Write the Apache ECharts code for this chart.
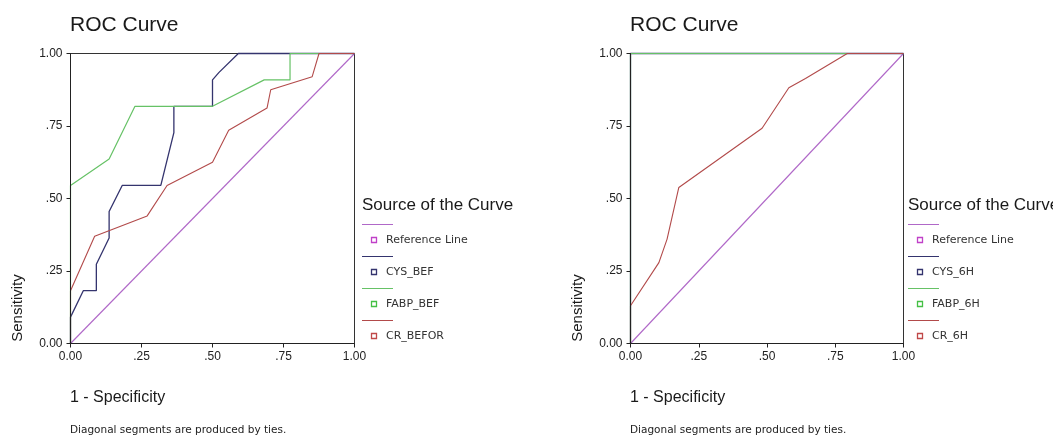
<!DOCTYPE html>
<html>
<head>
<meta charset="utf-8">
<script src="https://cdn.jsdelivr.net/npm/echarts@6/dist/echarts.min.js"></script>
<style>
html,body{margin:0;padding:0;background:#fff;}
#chart{width:1053px;height:436px;}
</style>
</head>
<body>
<div id="chart"></div>
<script>
// ---- data ----
const tickLabels = ['0.00', '.25', '.50', '.75', '1.00'];

const refLine = [[0, 0], [1, 1]];

// Left panel (before)
const cysBef = [[0,0],[0,0.091],[0.045,0.182],[0.091,0.182],[0.091,0.273],[0.136,0.364],[0.136,0.455],[0.182,0.545],[0.318,0.545],[0.364,0.727],[0.364,0.818],[0.5,0.818],[0.5,0.909],[0.523,0.935],[0.591,1],[1,1]];
const fabpBef = [[0,0],[0,0.545],[0.136,0.636],[0.227,0.818],[0.5,0.818],[0.682,0.909],[0.773,0.909],[0.773,1],[1,1]];
const crBefor = [[0,0],[0,0.182],[0.085,0.37],[0.27,0.44],[0.34,0.545],[0.5,0.625],[0.557,0.735],[0.692,0.812],[0.705,0.875],[0.851,0.92],[0.875,1],[1,1]];

// Right panel (6H)
const cys6h = [[0,0],[0,1],[1,1]];
const fabp6h = [[0,0],[0,1],[1,1]];
const cr6h = [[0,0],[0,0.13],[0.104,0.279],[0.134,0.36],[0.177,0.538],[0.482,0.742],[0.58,0.882],[0.641,0.914],[0.794,1],[1,1]];

const legendLeft = ['Reference Line', 'CYS_BEF', 'FABP_BEF', 'CR_BEFOR'];
const legendRight = ['Reference Line', 'CYS_6H', 'FABP_6H', 'CR_6H'];

// ---- styles ----
const lineColors = ['#b068c8', '#34346e', '#66c266', '#b24a4a'];
const markColors = ['#c040c8', '#34346e', '#44c044', '#c04848'];
const lineWidths = [1.1, 1.3, 1.2, 1.1];

const panels = [
  { left: 70.5, top: 53.5, width: 284, height: 290, series: [refLine, cysBef, fabpBef, crBefor], names: legendLeft, legX: 362 },
  { left: 630.5, top: 53.5, width: 273, height: 290, series: [refLine, cys6h, fabp6h, cr6h], names: legendRight, legX: 908 }
];

const axisFont = { fontFamily: 'Liberation Sans, Arial, sans-serif', fontSize: 12, color: '#222' };

function fmt(v) { return tickLabels[Math.round(v / 0.25)]; }

const grids = [], xAxes = [], yAxes = [], series = [], graphics = [];

panels.forEach((p, gi) => {
  grids.push({ left: p.left, top: p.top, width: p.width, height: p.height, show: true, z: 0,
    borderColor: '#333', borderWidth: 1, backgroundColor: 'transparent' });
  xAxes.push({ type: 'value', gridIndex: gi, min: 0, max: 1, interval: 0.25, z: 20,
    axisLine: { show: true, lineStyle: { color: '#222', width: 1 } },
    axisTick: { show: true, length: 4, lineStyle: { color: '#222' } },
    axisLabel: Object.assign({ formatter: fmt, margin: 7 }, axisFont),
    splitLine: { show: false } });
  yAxes.push({ type: 'value', gridIndex: gi, min: 0, max: 1, interval: 0.25, z: 20,
    axisLine: { show: true, lineStyle: { color: '#222', width: 1 } },
    axisTick: { show: true, length: 4, lineStyle: { color: '#222' } },
    axisLabel: Object.assign({ formatter: fmt, margin: 8 }, axisFont),
    splitLine: { show: false } });
  p.series.forEach((d, si) => {
    series.push({ type: 'line', name: p.names[si], xAxisIndex: gi, yAxisIndex: gi, data: d,
      showSymbol: false, symbol: 'none', animation: false, clip: false, z: 2 + si,
      lineStyle: { color: lineColors[si], width: lineWidths[si] } });
  });

  const lx = Math.floor(p.left);
  // texts
  graphics.push({ type: 'text', x: lx, y: 25, style: { text: 'ROC Curve', font: '21px "Liberation Sans", Arial, sans-serif', fill: '#1a1a1a', textVerticalAlign: 'middle' } });
  graphics.push({ type: 'text', x: lx - 52, y: 308, rotation: Math.PI / 2, style: { text: 'Sensitivity', font: '15px "Liberation Sans", Arial, sans-serif', fill: '#1a1a1a', textAlign: 'center', textVerticalAlign: 'middle' } });
  graphics.push({ type: 'text', x: lx, y: 398, style: { text: '1 - Specificity', font: '16px "Liberation Sans", Arial, sans-serif', fill: '#1a1a1a', textVerticalAlign: 'middle' } });
  graphics.push({ type: 'text', x: lx, y: 430, style: { text: 'Diagonal segments are produced by ties.', font: '10.5px "DejaVu Sans", sans-serif', fill: '#222', textVerticalAlign: 'middle' } });
  graphics.push({ type: 'text', x: p.legX, y: 205, style: { text: 'Source of the Curve', font: '17px "Liberation Sans", Arial, sans-serif', fill: '#1a1a1a', textVerticalAlign: 'middle' } });
  p.names.forEach((n, i) => {
    const ty = 240 + i * 32;
    graphics.push({ type: 'line', shape: { x1: p.legX, y1: ty - 15.5, x2: p.legX + 31, y2: ty - 15.5 }, style: { stroke: lineColors[i], lineWidth: 1 } });
    graphics.push({ type: 'rect', shape: { x: p.legX + 9.5, y: ty - 2.5, width: 5, height: 5 }, style: { fill: '#fff', stroke: markColors[i], lineWidth: 1.3 } });
    graphics.push({ type: 'text', x: p.legX + 24, y: ty, style: { text: n, font: '11px "DejaVu Sans", sans-serif', fill: '#333', textVerticalAlign: 'middle' } });
  });
});

const chart = echarts.init(document.getElementById('chart'), null, { renderer: 'canvas' });
chart.setOption({
  animation: false,
  backgroundColor: '#fff',
  grid: grids,
  xAxis: xAxes,
  yAxis: yAxes,
  series: series,
  graphic: graphics
});
</script>
</body>
</html>
